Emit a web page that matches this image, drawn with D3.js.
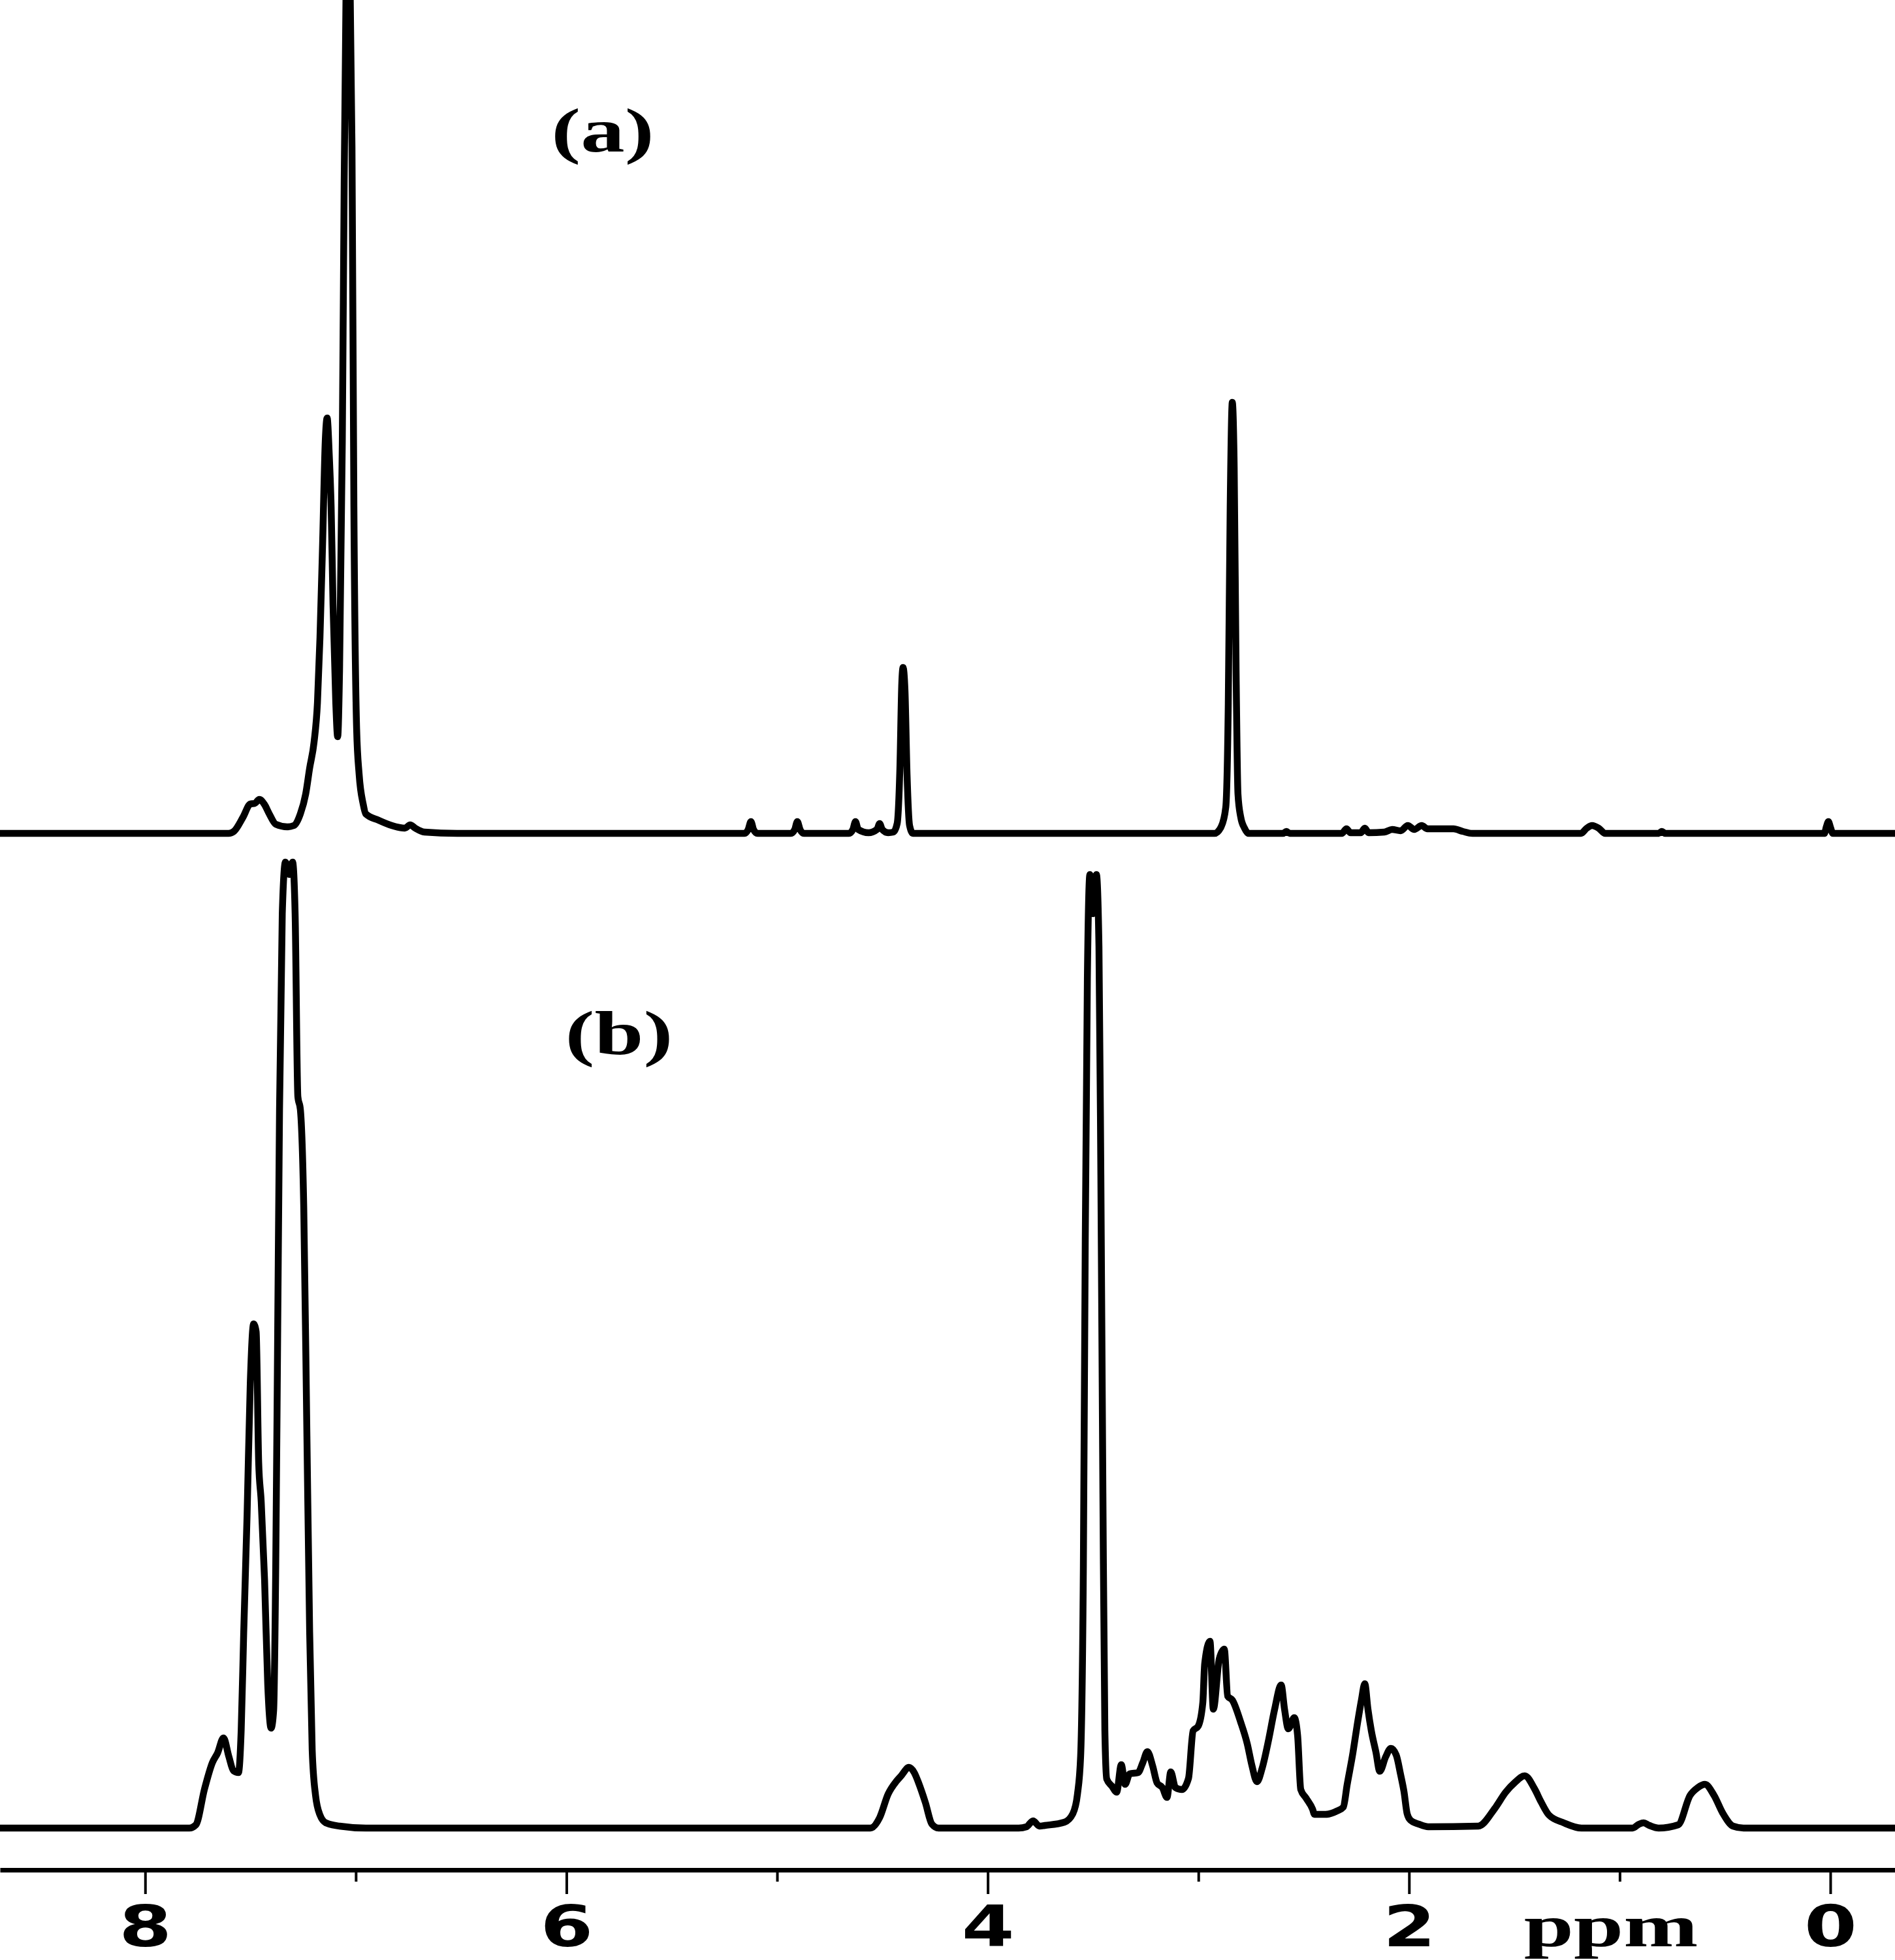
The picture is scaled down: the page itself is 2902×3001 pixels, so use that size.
<!DOCTYPE html>
<html>
<head>
<meta charset="utf-8">
<script src="https://cdn.jsdelivr.net/npm/d3@7"></script>
<style>
  html, body { margin: 0; padding: 0; background: #fff; }
  svg { display: block; }
</style>
</head>
<body>
<script>
// ---- Data (chemical shift in ppm, intensity in arbitrary units) ----
const majorTicks = [8, 6, 4, 2, 0];
const minorTicks = [7, 5, 3, 1];
const axisLabel = "ppm";
const panelLabels = ["(a)", "(b)"];

const specAPpm = [8.689, 7.604, 7.579, 7.535, 7.501, 7.479, 7.458, 7.433, 7.411, 7.380, 7.325, 7.294, 7.263, 7.238, 7.219, 7.198, 7.182, 7.170, 7.157, 7.145, 7.136, 7.126, 7.117, 7.108, 7.095, 7.086, 7.077, 7.064, 7.055, 7.046, 7.037, 7.027, 7.018, 7.009, 6.996, 6.984, 6.965, 6.953, 6.891, 6.829, 6.767, 6.742, 6.718, 6.674, 6.519,
  5.155, 5.137, 5.124, 5.112, 5.093, 4.935, 4.916, 4.904, 4.891, 4.873, 4.659, 4.640, 4.628, 4.615, 4.566, 4.526, 4.513, 4.501, 4.473, 4.448, 4.430, 4.417, 4.408, 4.402, 4.393, 4.383, 4.371, 4.355,
  2.923, 2.892, 2.870, 2.858, 2.849, 2.839, 2.830, 2.821, 2.812, 2.799, 2.781, 2.762, 2.598, 2.582, 2.567, 2.319, 2.297, 2.278, 2.229, 2.210, 2.192, 2.117, 2.080, 2.040, 2.006, 1.975, 1.940, 1.913, 1.789, 1.745, 1.699,
  1.184, 1.156, 1.131, 1.100, 1.069, 0.815, 0.800, 0.784, 0.028, 0.019, 0.009, 0.000, -0.012, -0.307];
const specAInt = [0, 0, 0.3, 2.5, 4.5, 4.6, 5.2, 4.4, 3.0, 1.4, 1.0, 1.2, 3, 6, 10, 14, 20, 30, 45, 60, 63.6, 58, 50, 35, 20, 14.8, 25, 60, 100, 130, 140, 130, 105, 50, 16, 9, 4.5, 3, 2, 1.2, 0.8, 1.3, 0.8, 0.2, 0,
  0, 0.6, 1.8, 0.6, 0, 0, 0.6, 1.8, 0.6, 0, 0, 0.6, 1.8, 0.6, 0.1, 0.6, 1.5, 0.6, 0.1, 0.2, 1.5, 10, 23, 25.4, 22, 9, 1.2, 0,
  0, 1.0, 4, 20, 50, 66, 56, 25, 6, 2.5, 0.8, 0, 0, 0.3, 0, 0, 0.7, 0.1, 0.1, 0.8, 0.1, 0.2, 0.6, 0.4, 1.2, 0.6, 1.2, 0.7, 0.7, 0.3, 0,
  0, 0.8, 1.2, 0.8, 0, 0, 0.3, 0, 0, 1.0, 1.8, 1.0, 0, 0];

const specBPpm = [8.689, 7.790, 7.759, 7.718, 7.681, 7.656, 7.628, 7.603, 7.581, 7.557, 7.544, 7.532, 7.516, 7.501, 7.485, 7.473, 7.461, 7.449, 7.433, 7.418, 7.402, 7.390, 7.380, 7.371, 7.362, 7.349, 7.334, 7.315, 7.300, 7.288, 7.275, 7.263, 7.247, 7.232, 7.219, 7.207, 7.191, 7.170, 7.142, 7.077, 6.953,
  4.557, 4.513, 4.473, 4.433, 4.411, 4.374, 4.349, 4.328, 4.296, 4.265, 4.234, 3.853, 3.816, 3.785, 3.754, 3.729, 3.636, 3.596, 3.574, 3.559, 3.546, 3.537, 3.527, 3.515, 3.500, 3.484, 3.472, 3.463, 3.453, 3.444, 3.435,
  3.410, 3.388, 3.366, 3.348, 3.326, 3.286, 3.264, 3.242, 3.217, 3.196, 3.171, 3.149, 3.131, 3.109, 3.078, 3.047, 3.025, 3.001, 2.979, 2.970, 2.945, 2.929, 2.901, 2.877, 2.861, 2.839, 2.799, 2.768, 2.746, 2.722, 2.697, 2.666, 2.638, 2.607, 2.591, 2.573, 2.545, 2.529, 2.514, 2.489, 2.458, 2.449, 2.396, 2.343, 2.312, 2.294, 2.266, 2.247, 2.226, 2.210, 2.195, 2.179, 2.157, 2.139, 2.111, 2.086, 2.061, 2.040, 2.024, 2.009, 1.993, 1.953, 1.909,
  1.671, 1.593, 1.541, 1.497, 1.451, 1.404, 1.373, 1.336, 1.265, 1.181, 0.939, 0.908, 0.887, 0.859, 0.815, 0.722, 0.666, 0.629, 0.595, 0.552, 0.511, 0.462, 0.412, -0.307];
const specBInt = [0, 0, 0.5, 6, 10, 11.5, 13.8, 11, 8.8, 8.5, 15, 30, 48, 68, 77.2, 76, 56, 50, 38, 22, 15.3, 18, 40, 75, 110, 140, 147.9, 146, 147.9, 140, 112, 110, 95, 60, 30, 12, 5, 2, 0.8, 0.3, 0,
  0, 1.6, 5.2, 7.2, 8, 9.3, 8.5, 6.9, 3.9, 0.6, 0, 0, 0.2, 1.1, 0.3, 0.4, 0.9, 2.2, 5.2, 11, 40, 90, 130, 146, 140, 146, 135, 100, 50, 15, 7.5,
  6.4, 5.5, 9.7, 6.7, 8.3, 8.5, 10, 11.7, 9.5, 6.9, 6.2, 4.7, 8.6, 6.2, 5.9, 7.6, 14.9, 15.6, 19.2, 25.2, 28.6, 18.2, 25.9, 27.4, 20.2, 19.6, 16.2, 12.9, 9.6, 7.1, 9.2, 13.6, 18.2, 21.9, 18.2, 15.2, 16.9, 14.2, 5.9, 4.6, 2.9, 2.1, 2.1, 2.6, 3.2, 6.6, 11.6, 15.6, 19.6, 22.1, 18.2, 14.9, 11.6, 8.7, 10.9, 12.2, 11.2, 8.2, 5.6, 2.2, 1.2, 0.6, 0.2,
  0.3, 3.0, 5.5, 7.0, 8.0, 6.0, 4.0, 2.0, 0.8, 0, 0, 0.6, 0.8, 0.4, 0, 0.5, 5.0, 6.2, 6.7, 5.0, 2.3, 0.3, 0, 0];

// ---- Layout ----
const W = 2902, H = 3001;
const svg = d3.select("body").append("svg")
  .attr("width", W).attr("height", H)
  .attr("viewBox", `0 0 ${W} ${H}`)
  .style("background", "#fff");

const x = d3.scaleLinear().domain([8.689, -0.307]).range([0, W]);
const yA = d3.scaleLinear().domain([0, 127.6]).range([1276, 0]);
const yB = d3.scaleLinear().domain([0, 127.6]).range([2799, 1523]);

svg.append("clipPath").attr("id", "plotclip")
  .append("rect").attr("x", 0).attr("y", 0).attr("width", W).attr("height", 2855);

function drawSpectrum(ppm, inten, y) {
  const pts = ppm.map((p, i) => [p, inten[i]]);
  const line = d3.line()
    .x(d => x(d[0]))
    .y(d => y(d[1]))
    .curve(d3.curveMonotoneX);
  svg.append("path")
    .datum(pts)
    .attr("clip-path", "url(#plotclip)")
    .attr("d", line)
    .attr("fill", "none")
    .attr("stroke", "#000")
    .attr("stroke-width", 10.5)
    .attr("stroke-linejoin", "round")
    .attr("stroke-linecap", "round");
}
drawSpectrum(specAPpm, specAInt, yA);
drawSpectrum(specBPpm, specBInt, yB);

// ---- Axis ----
const axisY = 2863;
const gMinor = svg.append("g").attr("transform", `translate(0,${axisY})`)
  .call(d3.axisBottom(x).tickValues(minorTicks).tickSize(18).tickSizeOuter(0).tickFormat(""));
gMinor.select(".domain").remove();
gMinor.selectAll(".tick line").attr("stroke", "#000").attr("stroke-width", 4);

const gMajor = svg.append("g").attr("transform", `translate(0,${axisY})`)
  .call(d3.axisBottom(x).tickValues(majorTicks).tickSize(37).tickSizeOuter(0).tickPadding(18).tickFormat(d3.format("d")));
gMajor.select(".domain").attr("stroke", "#000").attr("stroke-width", 7);
gMajor.selectAll(".tick line").attr("stroke", "#000").attr("stroke-width", 4);
gMajor.selectAll(".tick text")
  .attr("fill", "#000")
  .style("font-family", "'DejaVu Sans', sans-serif")
  .style("font-weight", "bold")
  .style("font-size", "88px")
  .attr("transform", "scale(1.32,1)");

// axis unit label
svg.append("text")
  .attr("transform", "translate(2467,2980) scale(1.49,1)")
  .attr("text-anchor", "middle")
  .style("font-family", "'Liberation Serif', 'Times New Roman', serif")
  .style("font-weight", "bold")
  .style("font-size", "92px")
  .attr("fill", "#000")
  .text(axisLabel);

// panel labels
const labelPos = [[923, 232], [948, 1614]];
panelLabels.forEach((t, i) => {
  svg.append("text")
    .attr("transform", `translate(${labelPos[i][0]},${labelPos[i][1]}) scale(1.42,1)`)
    .attr("text-anchor", "middle")
    .style("font-family", "'Liberation Serif', 'Times New Roman', serif")
    .style("font-weight", "bold")
    .style("font-size", "95px")
    .attr("fill", "#000")
    .text(t);
});
</script>
</body>
</html>
